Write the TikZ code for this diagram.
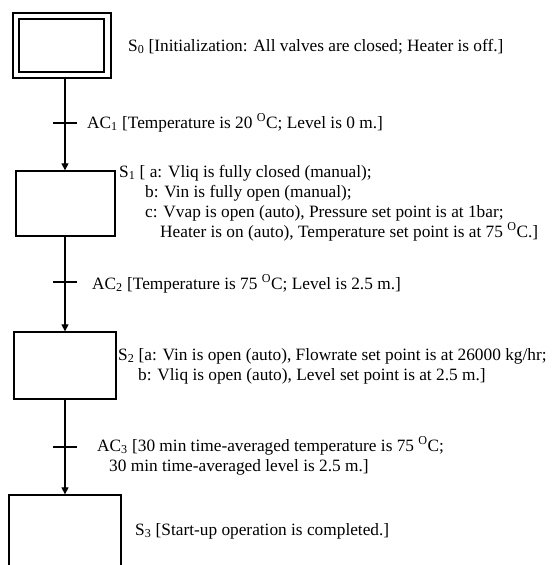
\documentclass[tikz,border=0pt]{standalone}
\usepackage{fontspec}
\setmainfont{Liberation Serif}
\usetikzlibrary{arrows.meta}
\begin{document}
\begin{tikzpicture}[x=1pt,y=-1pt,
  box/.style={draw,line width=1.3pt,inner sep=0pt,minimum width=#1},
  conn/.style={line width=1.2pt,-{Triangle[length=7pt,width=7pt]}},
  tickline/.style={line width=1.2pt},
  lbl/.style={anchor=base west,inner sep=0pt,font=\fontsize{17.3}{20}\selectfont}]
\clip (0,0) rectangle (555,565);
\fill[white] (0,0) rectangle (555,565);
% steps
\node[box=98pt,minimum height=65pt] (s0) at (62,45.5) {};
\node[box=85pt,minimum height=53pt] (s0in) at (61.5,45.5) {};
\node[box=99pt,minimum height=65pt] (s1) at (65.5,203.5) {};
\node[box=102pt,minimum height=67pt] (s2) at (65,365.5) {};
\node[box=112pt,minimum height=110pt] (s3) at (65,550) {};
% transitions
\coordinate (t1) at (65,123);
\coordinate (t2) at (65,282);
\coordinate (t3) at (65,447);
\draw[conn] (t1 |- s0.south) -- (t1 |- s1.north);
\draw[conn] (t2 |- s1.south) -- (t2 |- s2.north);
\draw[conn] (t3 |- s2.south) -- (t3 |- s3.north);
\draw[tickline] ([xshift=-12pt]t1) -- ([xshift=12pt]t1);
\draw[tickline] ([xshift=-12pt]t2) -- ([xshift=12pt]t2);
\draw[tickline] ([xshift=-12pt]t3) -- ([xshift=12pt]t3);
% labels
\node[lbl] (l0) at (128,51) {S\textsubscript{0} [Initialization: All valves are closed; Heater is off.]};
\node[lbl] (la1) at (87,128) {AC\textsubscript{1} [Temperature is 20 \textsuperscript{O}C; Level is 0 m.]};
\node[lbl] (l1a) at (119,177) {S\textsubscript{1} [ a: Vliq is fully closed (manual);};
\node[lbl] (l1b) at (145,197) {b: Vin is fully open (manual);};
\node[lbl] (l1c) at (145,217) {c: Vvap is open (auto), Pressure set point is at 1bar;};
\node[lbl] (l1d) at (160,237) {Heater is on (auto), Temperature set point is at 75 \textsuperscript{O}C.]};
\node[lbl] (la2) at (92,289) {AC\textsubscript{2} [Temperature is 75 \textsuperscript{O}C; Level is 2.5 m.]};
\node[lbl] (l2a) at (118,360) {S\textsubscript{2} [a: Vin is open (auto), Flowrate set point is at 26000 kg/hr;};
\node[lbl] (l2b) at (138,380) {b: Vliq is open (auto), Level set point is at 2.5 m.]};
\node[lbl] (la3a) at (97,451) {AC\textsubscript{3} [30 min time-averaged temperature is 75 \textsuperscript{O}C;};
\node[lbl] (la3b) at (109,471) {30 min time-averaged level is 2.5 m.]};
\node[lbl] (l3) at (135,535) {S\textsubscript{3} [Start-up operation is completed.]};
\end{tikzpicture}
\end{document}
